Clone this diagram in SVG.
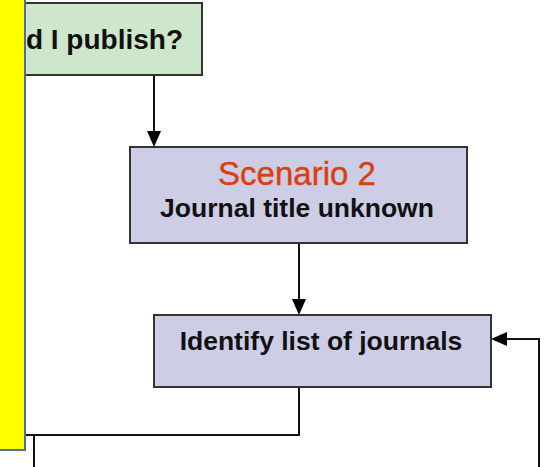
<svg xmlns="http://www.w3.org/2000/svg" width="544" height="467" viewBox="0 0 544 467">
<style>
.box{stroke:#333;stroke-width:2}
.green{fill:#cde6cc}
.lav{fill:#cdcde6}
.t{font-family:"Liberation Sans",Arial,sans-serif;font-weight:bold;fill:#111;text-anchor:middle}
.c{fill:none;stroke:#111;stroke-width:2}
</style>
<rect width="544" height="467" fill="#fff"/>
<g id="connectors">
<path class="c" d="M154,75 V140"/>
<path d="M147,131 L161,131 L154,147 Z" fill="#000"/>
<path class="c" d="M299,243 V308"/>
<path d="M292,299 L306,299 L299,315 Z" fill="#000"/>
<path class="c" d="M299,387 V435 H10"/>
<path class="c" d="M34,435 V467"/>
<path class="c" d="M539,467 V339 H498"/>
<path d="M507,332 L507,346 L491,339 Z" fill="#000"/>
</g>
<g id="node-publish">
<rect class="box green" x="-20" y="3" width="222" height="72"/>
<text class="t" x="183" y="49" font-size="28" style="text-anchor:end">d I publish?</text>
</g>
<g id="node-scenario2">
<rect class="box lav" x="130" y="147" width="337" height="96"/>
<text x="297" y="185" font-size="33" font-family="Liberation Sans, Arial, sans-serif" fill="#d8400e" stroke="#d8400e" stroke-width="0.4" text-anchor="middle">Scenario 2</text>
<text class="t" x="297" y="217" font-size="26.5">Journal title unknown</text>
</g>
<g id="node-identify">
<rect class="box lav" x="154" y="315" width="337" height="72"/>
<text class="t" x="321" y="350" font-size="26.5">Identify list of journals</text>
</g>
<g id="sidebar">
<rect x="-5" y="-5" width="30" height="455" fill="#ffff00" stroke="#4a6fa0" stroke-width="2"/>
</g>
</svg>
